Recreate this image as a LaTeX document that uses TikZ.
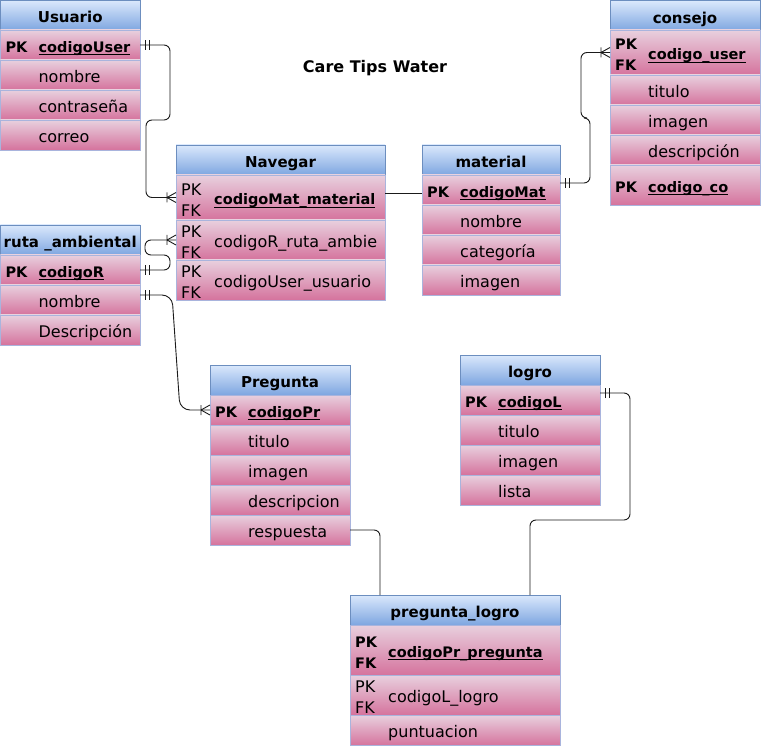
\documentclass[tikz,border=0pt]{standalone}
\usepackage{fontspec}
\setmainfont{DejaVu Sans}
\usetikzlibrary{decorations.markings}

\definecolor{hdtop}{HTML}{DAE8FC}
\definecolor{hdbot}{HTML}{7EA6E0}
\definecolor{hdline}{HTML}{6C8EBF}
\definecolor{rwtop}{HTML}{E8D0DE}
\definecolor{rwbot}{HTML}{D5739D}
\definecolor{rwline}{HTML}{A9B4DD}
\definecolor{lnk}{HTML}{1A1A1A}

\newsavebox\erbox
\newcommand\erul[1]{\sbox\erbox{#1}\rlap{\vrule height -1.8pt depth 2.9pt width \wd\erbox}\usebox\erbox}
\newcommand\pkf[1]{{\fontsize{14.5}{21}\selectfont\bfseries\erul{#1}}}
\newcommand\bk[1]{{\fontsize{14.5}{21}\selectfont\bfseries #1}}

\tikzset{
  hdr/.style={draw=hdline, top color=hdtop, bottom color=hdbot, minimum height=30,
    inner sep=0, outer sep=0, line width=0.8pt, anchor=north west},
  rowbox/.style={draw=rwline, top color=rwtop, bottom color=rwbot,
    inner sep=0, outer sep=0, line width=0.8pt, anchor=north west},
  hdtxt/.style={font=\fontsize{15}{18}\selectfont\bfseries, anchor=base, inner sep=0},
  fld/.style={font=\fontsize{16}{21}\selectfont, anchor=base west, inner sep=0},
  key2/.style={font=\fontsize{16}{21}\selectfont, anchor=west, align=left, inner sep=0},
  link/.style={draw=lnk, line width=0.9pt, rounded corners=6},
  one start/.style={postaction={decorate, decoration={markings,
      mark=at position 5pt with {\draw[lnk, line width=0.9pt, sharp corners] (0,-5pt)--(0,5pt);},
      mark=at position 9pt with {\draw[lnk, line width=0.9pt, sharp corners] (0,-5pt)--(0,5pt);}}}},
  many end/.style={postaction={decorate, decoration={markings,
      mark=at position 1 with {\draw[lnk, line width=0.9pt, sharp corners]
        (-9pt,0pt)--(0pt,5pt) (-9pt,0pt)--(0pt,-5pt) (-9pt,-5pt)--(-9pt,5pt);}}}},
}

\newcommand\erhead[5]{%
  \node[hdr, minimum width=#4] (#1) at (#2,#3) {};
  \node[hdtxt] (#1t) at ([yshift=-7.5pt]#1.center) {#5};}
\newcommand\errow[7]{%
  \node[rowbox, minimum width=#4, minimum height=#5] (#1) at (#2,#3) {};
  \node[fld] (#1k) at ([xshift=5pt,yshift=-7.5pt]#1.west) {#6};
  \node[fld] (#1f) at ([xshift=38pt,yshift=-7.5pt]#1.west) {#7};}
\newcommand\errowtwo[7]{%
  \node[rowbox, minimum width=#4, minimum height=#5] (#1) at (#2,#3) {};
  \node[key2] (#1k) at ([xshift=5pt,yshift=-2.5pt]#1.west) {#6};
  \node[fld] (#1f) at ([xshift=38pt,yshift=-7.5pt]#1.west) {#7};}

\begin{document}
\begin{tikzpicture}[x=1pt,y=-1pt]
\useasboundingbox (0,0) rectangle (761,746);

% title
\node[font=\fontsize{16}{19}\selectfont\bfseries, inner sep=0] (title) at (375,68) {Care Tips Water};

% Usuario
\erhead{uh}{0.4}{0.4}{139.6}{Usuario}
\errow{u1}{0.4}{30}{139.6}{30}{\bk{PK}}{\pkf{codigoUser}}
\errow{u2}{0.4}{60}{139.6}{30}{}{nombre}
\errow{u3}{0.4}{90}{139.6}{30}{}{contraseña}
\errow{u4}{0.4}{120}{139.6}{30}{}{correo}

% Navegar
\erhead{nh}{176}{145}{209}{Navegar}
\errowtwo{n1}{176}{175}{209}{45}{PK\\FK}{\pkf{codigoMat\_material}}
\errowtwo{n2}{176}{220}{209}{40}{PK\\FK}{codigoR\_ruta\_ambie}
\errowtwo{n3}{176}{260}{209}{40}{PK\\FK}{codigoUser\_usuario}

% material
\erhead{mh}{422}{145}{138}{material}
\errow{m1}{422}{175}{138}{30}{\bk{PK}}{\pkf{codigoMat}}
\errow{m2}{422}{205}{138}{30}{}{nombre}
\errow{m3}{422}{235}{138}{30}{}{categoría}
\errow{m4}{422}{265}{138}{30}{}{imagen}

% consejo
\erhead{ch}{610}{0.8}{150}{consejo}
\errowtwo{c1}{610}{30}{150}{45}{\bk{PK}\\\bk{FK}}{\pkf{codigo\_user}}
\errow{c2}{610}{75}{150}{30}{}{titulo}
\errow{c3}{610}{105}{150}{30}{}{imagen}
\errow{c4}{610}{135}{150}{30}{}{descripción}
\errow{c5}{610}{165}{150}{40}{\bk{PK}}{\pkf{codigo\_co}}

% ruta_ambiental
\erhead{rh}{0.4}{225}{139.6}{ruta \_ambiental}
\errow{r1}{0.4}{255}{139.6}{30}{\bk{PK}}{\pkf{codigoR}}
\errow{r2}{0.4}{285}{139.6}{30}{}{nombre}
\errow{r3}{0.4}{315}{139.6}{30}{}{Descripción}

% Pregunta
\erhead{ph}{210}{365}{140}{Pregunta}
\errow{p1}{210}{395}{140}{30}{\bk{PK}}{\pkf{codigoPr}}
\errow{p2}{210}{425}{140}{30}{}{titulo}
\errow{p3}{210}{455}{140}{30}{}{imagen}
\errow{p4}{210}{485}{140}{30}{}{descripcion}
\errow{p5}{210}{515}{140}{30}{}{respuesta}

% logro
\erhead{lh}{460}{355}{140}{logro}
\errow{l1}{460}{385}{140}{30}{\bk{PK}}{\pkf{codigoL}}
\errow{l2}{460}{415}{140}{30}{}{titulo}
\errow{l3}{460}{445}{140}{30}{}{imagen}
\errow{l4}{460}{475}{140}{30}{}{lista}

% pregunta_logro
\erhead{plh}{350}{595}{210}{pregunta\_logro}
\errowtwo{pl1}{350}{625}{210}{50}{\bk{PK}\\\bk{FK}}{\pkf{codigoPr\_pregunta}}
\errowtwo{pl2}{350}{675}{210}{40}{PK\\FK}{codigoL\_logro}
\errow{pl3}{350}{715}{210}{30.5}{}{puntuacion}

% connectors
\draw[link, one start, many end] (u1.east) -| (170,120) -- (146,120) |- (n1.west);
\draw[link, one start, many end] (r1.east) -| (170,255) -- (145,255) |- (n2.west);
\draw[link, one start, many end, rounded corners=10] ([yshift=5pt]r2.east) -- (172,295) -- (180,410) -- (p1.west);
\draw[link] ([yshift=4pt]n1.east) -- ([yshift=4pt]n1.east -| m1.west);
\draw[link, one start, many end] ([yshift=7pt]m1.east) -| (590,118) -- (581,118) |- (c1.west);
\draw[link, one start] ([yshift=7pt]l1.east) -| (630,520) -| (plh.north -| 530,0);
\draw[link] (p5.east) -| (plh.north -| 380,0);
\end{tikzpicture}
\end{document}
